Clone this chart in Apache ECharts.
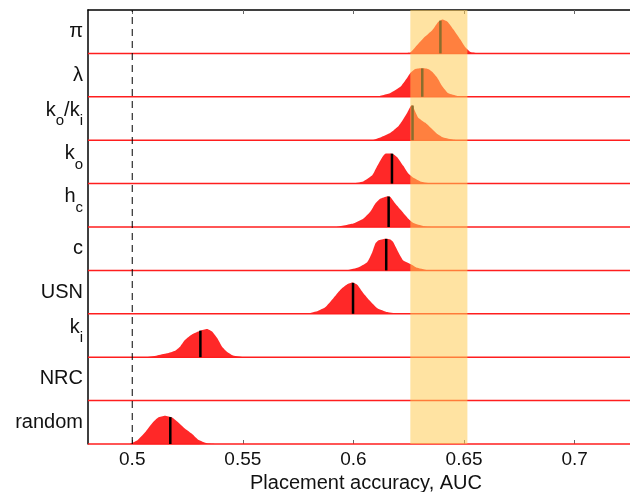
<!DOCTYPE html>
<html><head><meta charset="utf-8">
<script src="https://cdn.jsdelivr.net/npm/echarts@6/dist/echarts.min.js"></script>
<style>html,body{margin:0;padding:0;background:#fff}#c{width:630px;height:492px}</style>
</head><body><div id="c"></div>
<script>
// ---- data ----
const rowLabels = ['π', 'λ', 'k_o/k_i', 'k_o', 'h_c', 'c', 'USN', 'k_i', 'NRC', 'random'];
const medians = [0.6393, 0.6311, 0.6267, 0.6174, 0.6159, 0.6148, 0.5998, 0.5308, null, 0.5172];
const tickValues = [0.5, 0.55, 0.6, 0.65, 0.7];
const chanceLevel = [0.5];
const bestRange = [0.6257, 0.6515];
const xMin = 0.48, xMax = 0.725;
const axisTitle = 'Placement accuracy, AUC';

// density curves: [AUC, density as fraction of row height]
const densPi = [[0.6220,0],[0.6240,0.01],[0.6257,0.02],[0.6280,0.15],[0.6316,0.35],[0.6357,0.54],[0.6384,0.73],[0.6402,0.78],[0.6425,0.73],[0.6452,0.55],[0.6483,0.32],[0.6506,0.14],[0.6529,0.03],[0.6560,0]];
const densLambda = [[0.6108,0],[0.6167,0.09],[0.6212,0.23],[0.6243,0.44],[0.6257,0.55],[0.6275,0.63],[0.6290,0.65],[0.6310,0.655],[0.6330,0.65],[0.6342,0.63],[0.6357,0.57],[0.6380,0.43],[0.6402,0.24],[0.6429,0.08],[0.6470,0.02],[0.6515,0]];
const densKoKi = [[0.6090,0],[0.6121,0.06],[0.6167,0.17],[0.6203,0.32],[0.6225,0.48],[0.6243,0.63],[0.6257,0.77],[0.6266,0.81],[0.6275,0.71],[0.6293,0.52],[0.6325,0.40],[0.6348,0.29],[0.6379,0.14],[0.6406,0.06],[0.6452,0.01],[0.6497,0]];
const densKo = [[0.5999,0],[0.6044,0.05],[0.6085,0.19],[0.6108,0.41],[0.6130,0.61],[0.6144,0.69],[0.6176,0.69],[0.6198,0.61],[0.6225,0.41],[0.6248,0.23],[0.6266,0.15],[0.6302,0.05],[0.6348,0]];
const densHc = [[0.5927,0],[0.5999,0.08],[0.6044,0.19],[0.6076,0.35],[0.6099,0.54],[0.6121,0.65],[0.6153,0.71],[0.6167,0.69],[0.6189,0.54],[0.6221,0.35],[0.6248,0.19],[0.6271,0.09],[0.6316,0.02],[0.6361,0]];
const densC = [[0.5972,0],[0.6017,0.06],[0.6062,0.19],[0.6085,0.42],[0.6099,0.62],[0.6112,0.69],[0.6144,0.73],[0.6167,0.71],[0.6180,0.65],[0.6203,0.42],[0.6225,0.23],[0.6257,0.15],[0.6289,0.06],[0.6334,0]];
const densUSN = [[0.5791,0],[0.5836,0.06],[0.5872,0.15],[0.5909,0.36],[0.5940,0.55],[0.5972,0.68],[0.5995,0.72],[0.6017,0.67],[0.6044,0.48],[0.6076,0.29],[0.6108,0.13],[0.6153,0.04],[0.6198,0]];
const densKi = [[0.5067,0],[0.5112,0.04],[0.5157,0.09],[0.5194,0.15],[0.5216,0.24],[0.5239,0.40],[0.5271,0.53],[0.5307,0.61],[0.5338,0.65],[0.5361,0.59],[0.5384,0.44],[0.5406,0.24],[0.5429,0.12],[0.5456,0.04],[0.5501,0]];
const densNRC = [];
const densRandom = [[0.4990,0],[0.5022,0.08],[0.5058,0.27],[0.5090,0.48],[0.5117,0.61],[0.5148,0.65],[0.5180,0.61],[0.5207,0.50],[0.5239,0.35],[0.5271,0.23],[0.5298,0.10],[0.5338,0.02],[0.5384,0]];
const densities = [densPi, densLambda, densKoKi, densKo, densHc, densC, densUSN, densKi, densNRC, densRandom];

// ---- styling ----
const FONT = 'Liberation Sans, Arial, Helvetica, sans-serif';
const fillRed = '#ff2828';
const lineRed = '#ff1e1e';
const bandColor = 'rgba(255,203,84,0.54)';
const nRows = rowLabels.length;

function toRich(s) {
  if (s.indexOf('_') < 0) return '{n|' + s + '}';
  let out = '', buf = '';
  for (let i = 0; i < s.length; i++) {
    if (s[i] === '_') {
      if (buf) { out += '{b|' + buf + '}'; buf = ''; }
      out += '{s|' + s[i + 1] + '}'; i++;
    } else buf += s[i];
  }
  if (buf) out += '{b|' + buf + '}';
  return out;
}
function densAt(d, x) {
  for (let i = 0; i < d.length - 1; i++) {
    if (x >= d[i][0] && x <= d[i + 1][0]) {
      const t = (x - d[i][0]) / (d[i + 1][0] - d[i][0]);
      return d[i][1] + t * (d[i + 1][1] - d[i][1]);
    }
  }
  return 0;
}

const chart = echarts.init(document.getElementById('c'), null, {renderer: 'canvas'});
chart.setOption({
  animation: false,
  backgroundColor: '#fff',
  grid: {left: 88, right: 0, top: 10, bottom: 48, containLabel: false, outerBoundsMode: 'none'},
  xAxis: [{
    type: 'value', min: xMin, max: xMax, position: 'bottom',
    axisLine: {show: false},
    axisTick: {show: true, inside: true, length: 4, lineStyle: {color: '#666', width: 1}, customValues: tickValues},
    axisLabel: {show: true, customValues: tickValues, fontSize: 19, color: '#111', margin: 6, fontFamily: FONT},
    splitLine: {show: false},
    name: axisTitle, nameLocation: 'middle', nameGap: 26,
    nameTextStyle: {fontSize: 20, color: '#111', fontFamily: FONT, padding: [0, 0, 0, 14]}
  }, {
    type: 'value', min: xMin, max: xMax, position: 'top',
    axisLine: {show: true, lineStyle: {color: '#000', width: 1.5}},
    axisTick: {show: true, inside: true, length: 4, lineStyle: {color: '#666', width: 1}, customValues: tickValues},
    axisLabel: {show: false},
    splitLine: {show: false}
  }],
  yAxis: [{
    type: 'value', min: 0, max: nRows, show: false
  }, {
    type: 'category', position: 'left',
    data: rowLabels.slice().reverse(),
    axisLine: {show: true, lineStyle: {color: '#000', width: 1.5}},
    axisTick: {show: false},
    splitLine: {show: false},
    axisLabel: {
      margin: 5, color: '#111', fontFamily: FONT,
      formatter: v => toRich(v),
      rich: {
        n: {fontSize: 20, fontFamily: FONT, color: '#111'},
        b: {fontSize: 20, lineHeight: 20, fontFamily: FONT, color: '#111', padding: [0, 0, 17, 0]},
        s: {fontSize: 15, lineHeight: 16, fontFamily: FONT, color: '#111', padding: [5, 0, 0, 0]}
      }
    }
  }],
  series: [{
    type: 'custom', name: 'rows', xAxisIndex: 0, yAxisIndex: 0, z: 2, silent: true,
    data: rowLabels.map((_, i) => [i]),
    renderItem: function (params, api) {
      const r = api.value(0);
      const base = nRows - 1 - r;
      const d = densities[r];
      const children = [];
      if (d.length) {
        const pts = d.map(p => api.coord([p[0], base + p[1]]));
        children.push({type: 'polygon', shape: {points: pts, smooth: 0.15}, style: {fill: fillRed}});
      }
      const a = api.coord([xMin, base]), b = api.coord([xMax, base]);
      children.push({type: 'line', shape: {x1: a[0], y1: a[1], x2: b[0], y2: b[1]}, style: {stroke: lineRed, lineWidth: 1.5}});
      if (medians[r] != null) {
        const h = densAt(d, medians[r]);
        const p0 = api.coord([medians[r], base]), p1 = api.coord([medians[r], base + h]);
        children.push({type: 'line', shape: {x1: p0[0], y1: p0[1], x2: p1[0], y2: p1[1]}, style: {stroke: '#000', lineWidth: 2.5}});
      }
      return {type: 'group', children: children};
    }
  }, {
    type: 'custom', name: 'chance', xAxisIndex: 0, yAxisIndex: 0, z: 3, silent: true,
    data: chanceLevel.map(v => [v]),
    renderItem: function (params, api) {
      const p0 = api.coord([api.value(0), 0]), p1 = api.coord([api.value(0), nRows]);
      return {type: 'line', shape: {x1: p0[0], y1: p0[1], x2: p1[0], y2: p1[1]}, style: {stroke: '#000', lineWidth: 1, lineDash: [7, 5]}};
    }
  }, {
    type: 'custom', name: 'band', xAxisIndex: 0, yAxisIndex: 0, z: 5, silent: true,
    data: [bestRange],
    renderItem: function (params, api) {
      const p0 = api.coord([api.value(0), nRows]), p1 = api.coord([api.value(1), 0]);
      return {type: 'rect', shape: {x: p0[0], y: p0[1], width: p1[0] - p0[0], height: p1[1] - p0[1]}, style: {fill: bandColor}};
    }
  }]
});
</script>
</body></html>
